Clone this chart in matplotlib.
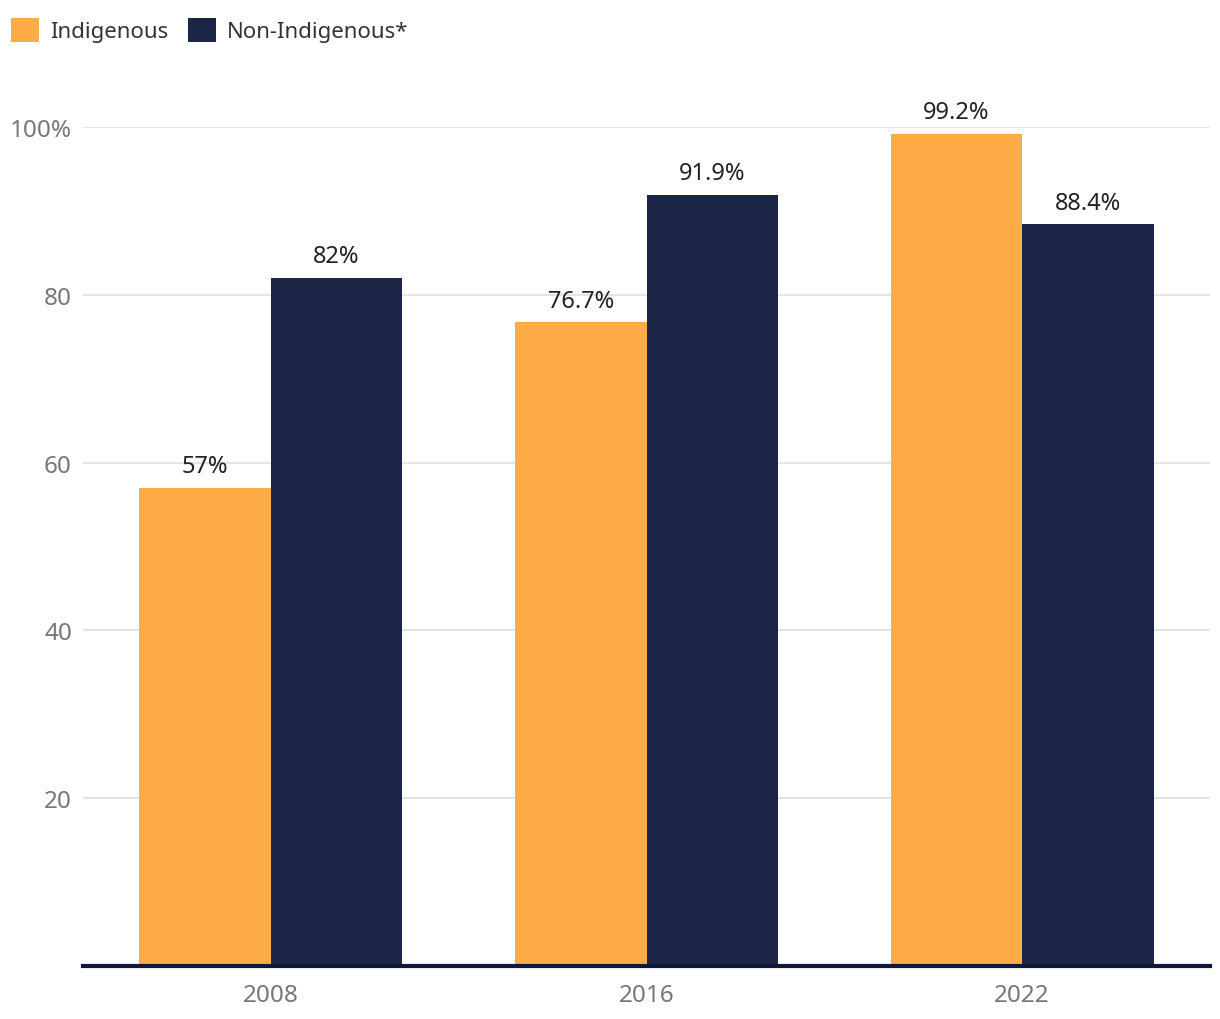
import numpy as np
import matplotlib
matplotlib.use("Agg")
import matplotlib.pyplot as plt
from matplotlib.patches import Patch

years = ["2008", "2016", "2022"]
indigenous = [57, 76.7, 99.2]
non_indigenous = [82, 91.9, 88.4]
series_names = ["Indigenous", "Non-Indigenous*"]
yticks = [20, 40, 60, 80, 100]
ytick_labels = ["20", "40", "60", "80", "100%"]

ORANGE = "#FFAB46"
NAVY = "#1B2646"

plt.rcParams["font.family"] = ["Noto Sans", "DejaVu Sans"]

fig = plt.figure(figsize=(12.2, 10.2), dpi=100)
W, H = 1220, 1020
ax = fig.add_axes([83 / W, (H - 967) / H, (1210 - 83) / W, (967 - 128) / H])

x = np.arange(len(years))
w = 0.35
b1 = ax.bar(x - w / 2, indigenous, w, color=ORANGE, zorder=2)
b2 = ax.bar(x + w / 2, non_indigenous, w, color=NAVY, zorder=2)

for bars, vals in ((b1, indigenous), (b2, non_indigenous)):
    for r, v in zip(bars, vals):
        ax.annotate(f"{v:g}%", (r.get_x() + r.get_width() / 2, v),
                    xytext=(0, 7), textcoords="offset points",
                    ha="center", va="bottom", fontsize=17, color="#222222",
                    annotation_clip=False)

ax.set_xlim(-0.5, 2.5)
ax.set_ylim(0, 100)
ax.set_xticks(x)
ax.set_xticklabels(years)
ax.set_yticks(yticks)
ax.set_yticklabels(ytick_labels)
ax.tick_params(axis="both", length=0, labelsize=17.5, labelcolor="#777777")
ax.tick_params(axis="y", pad=8)
ax.tick_params(axis="x", pad=12)
ax.grid(axis="y", color="#e4e4e4", lw=1.5, zorder=0)
ax.set_axisbelow(True)
for s in ("left", "right", "top"):
    ax.spines[s].set_visible(False)
ax.spines["bottom"].set_color("#0f1838")
ax.spines["bottom"].set_linewidth(3)
ax.spines["bottom"].set_zorder(3)

handles = [Patch(facecolor=ORANGE, edgecolor="none"),
           Patch(facecolor=NAVY, edgecolor="none")]
fig.legend(handles, series_names, loc="upper left",
           bbox_to_anchor=(0.0, 0.992), ncol=2, frameon=False,
           fontsize=16, labelcolor="#333333",
           handlelength=1.25, handleheight=1.25, handletextpad=0.5,
           columnspacing=0.9, borderaxespad=0.1)

fig.savefig("out.png", dpi=100)
